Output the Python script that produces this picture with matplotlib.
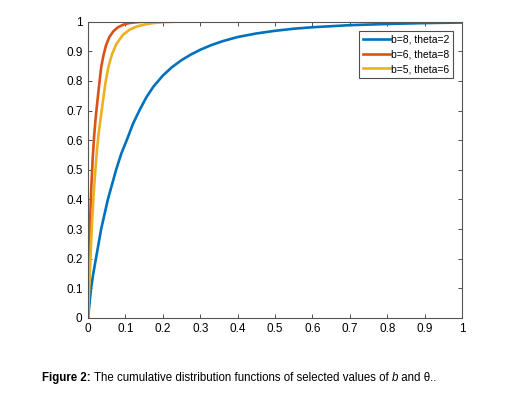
import matplotlib
matplotlib.use('Agg')
import matplotlib.pyplot as plt
from matplotlib.ticker import FuncFormatter

# values
x_blue = [0, 0.004, 0.008, 0.014, 0.021, 0.028, 0.035, 0.044, 0.053, 0.064, 0.075,
          0.089, 0.105, 0.12, 0.138, 0.156, 0.175, 0.2, 0.225, 0.25, 0.275, 0.3,
          0.33, 0.36, 0.4, 0.45, 0.5, 0.55, 0.6, 0.7, 0.8, 0.9, 1.0]
y_blue = [0, 0.05, 0.1, 0.15, 0.2, 0.25, 0.3, 0.35, 0.4, 0.45, 0.5,
          0.555, 0.605, 0.655, 0.702, 0.745, 0.781, 0.818, 0.847, 0.87, 0.889, 0.905,
          0.921, 0.934, 0.948, 0.96, 0.969, 0.976, 0.981, 0.988, 0.992, 0.995, 0.997]

x_red = [0, 0.001, 0.002, 0.004, 0.006, 0.009, 0.0125, 0.016, 0.02, 0.024, 0.03,
         0.035, 0.041, 0.048, 0.057, 0.068, 0.08, 0.095, 0.11, 0.13, 0.15, 1.0]
y_red = [0, 0.06, 0.12, 0.25, 0.35, 0.45, 0.54, 0.61, 0.67, 0.72, 0.79,
         0.845, 0.885, 0.92, 0.948, 0.968, 0.981, 0.99, 0.995, 0.998, 1.0, 1.0]

x_yel = [0, 0.002, 0.004, 0.007, 0.011, 0.015, 0.0196, 0.024, 0.029, 0.0375, 0.046,
         0.054, 0.064, 0.076, 0.093, 0.11, 0.129, 0.15, 0.173, 0.2, 0.24, 1.0]
y_yel = [0, 0.07, 0.13, 0.22, 0.33, 0.42, 0.5, 0.57, 0.63, 0.71, 0.79,
         0.845, 0.89, 0.925, 0.955, 0.972, 0.983, 0.99, 0.995, 0.998, 1.0, 1.0]

labels = ['b=8, theta=2', 'b=6, theta=8', 'b=5, theta=6']
ticks = [0, 0.1, 0.2, 0.3, 0.4, 0.5, 0.6, 0.7, 0.8, 0.9, 1]

plt.rcParams['font.family'] = ['Liberation Sans', 'DejaVu Sans']

fig = plt.figure(figsize=(5.18, 3.93), dpi=100)
fig.set_facecolor('white')
ax = fig.add_axes([0.170, 0.191, 0.722, 0.754])

ax.plot(x_blue, y_blue, color='#0072BD', lw=1.9, label=labels[0])
ax.plot(x_red, y_red, color='#D95319', lw=1.9, label=labels[1])
ax.plot(x_yel, y_yel, color='#EDB120', lw=1.9, label=labels[2])

ax.set_xlim(0, 1)
ax.set_ylim(0, 1)
ax.set_xticks(ticks)
ax.set_yticks(ticks)
fmt = FuncFormatter(lambda v, p: ('%g' % round(v, 2)))
ax.xaxis.set_major_formatter(fmt)
ax.yaxis.set_major_formatter(fmt)
ax.tick_params(direction='in', length=3, width=0.6, color='#333333',
               top=True, right=True, labelsize=8.5, pad=4)
for s in ax.spines.values():
    s.set_color('#555555')
    s.set_linewidth(0.8)

leg = ax.legend(loc='upper right', fontsize=7.5, frameon=True, fancybox=False,
                handlelength=2.6, handletextpad=0.1, borderpad=0.35,
                labelspacing=0.45, borderaxespad=0.9)
leg.get_frame().set_edgecolor('#222222')
leg.get_frame().set_linewidth(0.8)

# caption in pieces: bold label, plain text, italic b
cap_font = ['Liberation Sans Narrow', 'Liberation Sans', 'DejaVu Sans']
cap_size = 8.3
t1 = fig.text(0.082, 0.031, 'Figure 2:', fontsize=cap_size, fontweight='bold', family=cap_font)
t2 = ax.annotate(' The cumulative distribution functions of selected values of ',
                 xy=(1, 0), xycoords=t1, va='bottom', ha='left', fontsize=cap_size,
                 family=cap_font, annotation_clip=False)
t3 = ax.annotate('b', xy=(1, 0), xycoords=t2, va='bottom', ha='left', fontsize=cap_size,
                 style='italic', family=cap_font, annotation_clip=False)
t4 = ax.annotate(' and θ..', xy=(1, 0), xycoords=t3, va='bottom', ha='left', fontsize=cap_size,
                 family=cap_font, annotation_clip=False)

plt.savefig('out.png', dpi=100)
